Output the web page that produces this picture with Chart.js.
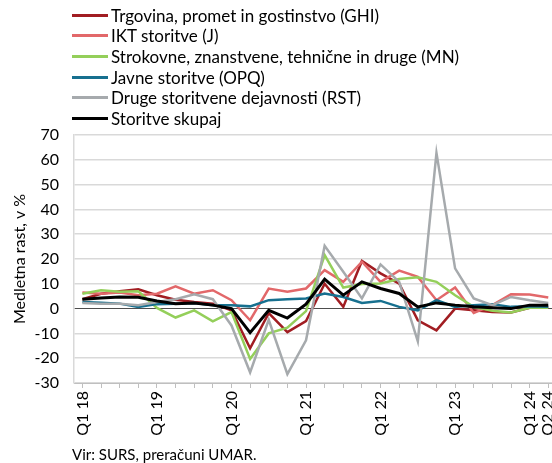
<!DOCTYPE html>
<html>
<head>
<meta charset="utf-8">
<script src="https://cdn.jsdelivr.net/npm/chart.js@4/dist/chart.umd.min.js"></script>
<style>
    html, body { margin: 0; padding: 0; background: #fff; }
    #wrap { position: relative; width: 552px; height: 463px; overflow: hidden; font-family: Lato, sans-serif; color: #000; }
    #chart { position: absolute; left: 0; top: 0; }
    #legend { position: absolute; left: 72px; top: 5px; }
    .item { height: 20.6px; display: flex; align-items: center; font-size: 17px; white-space: nowrap; }
    .swatch { width: 36px; height: 3px; margin-right: 3px; }
    #source { position: absolute; left: 72px; top: 445px; font-size: 15px; }
</style>
</head>
<body>
<div id="wrap">
    <canvas id="chart" width="552" height="463"></canvas>
    <div id="legend"></div>
    <div id="source">Vir: SURS, preračuni UMAR.</div>
</div>
<script>
// Quarters Q1 2018 - Q2 2024
const quarters = [
    'Q1 18', 'Q2 18', 'Q3 18', 'Q4 18',
    'Q1 19', 'Q2 19', 'Q3 19', 'Q4 19',
    'Q1 20', 'Q2 20', 'Q3 20', 'Q4 20',
    'Q1 21', 'Q2 21', 'Q3 21', 'Q4 21',
    'Q1 22', 'Q2 22', 'Q3 22', 'Q4 22',
    'Q1 23', 'Q2 23', 'Q3 23', 'Q4 23',
    'Q1 24', 'Q2 24'
];
const shownTicks = ['Q1 18', 'Q1 19', 'Q1 20', 'Q1 21', 'Q1 22', 'Q1 23', 'Q1 24', 'Q2 24'];

const seriesNames = [
    'Trgovina, promet in gostinstvo (GHI)',
    'IKT storitve (J)',
    'Strokovne, znanstvene, tehnične in druge (MN)',
    'Javne storitve (OPQ)',
    'Druge storitvene dejavnosti (RST)',
    'Storitve skupaj'
];

// Medletna rast, v %
const ghi = [3.8, 6, 7, 7.8, 5.4, 3.6, 2.7, 2, -0.7, -16, -1.8, -9.5, -5, 10, 0.7, 19.2, 14.2, 10.1, -4.7, -8.8, 0, -0.7, -1.4, -1.6, 0.3, 0.3];
const ikt = [6.5, 6, 6.5, 5.4, 6, 9, 6, 7.4, 3.4, -4.7, 8.1, 6.8, 8.1, 15.5, 10.8, 18.9, 10.8, 15.3, 12.8, 3.4, 8.5, -1.8, 1.4, 5.8, 5.7, 4.5];
const mn = [6, 7.4, 6.8, 7, 0.3, -3.6, -0.7, -5.1, -1.4, -20.3, -10, -7.7, -1, 21.6, 8.5, 9.9, 10.1, 11.9, 12.6, 10.8, 5.4, 0.7, -0.9, -1.6, 0.3, 0.3];
const opq = [2.7, 2.4, 2, 0.7, 1.8, 2, 2.3, 1.4, 1.4, 0.9, 3.4, 3.8, 4.1, 6.1, 4.7, 2.3, 3.1, 0.7, -0.7, 3.4, 0.7, 1.4, 1.8, 0.7, 0.9, 0.7];
const rst = [2.3, 2, 2, 1.4, 2.7, 3.8, 5.8, 3.8, -6.8, -25.7, -4.5, -26.4, -12.8, 25.3, 14.9, 4.1, 17.8, 10.8, -13.2, 62.8, 16.2, 4.1, 1.4, 4.7, 3.4, 2.3];
const skupaj = [3.8, 4.3, 4.7, 4.6, 3.1, 2, 2.3, 1.4, 0, -9.7, -0.7, -3.8, 1.8, 11.9, 5.4, 10.8, 8.1, 6.1, 0.7, 2.3, 1.4, 0.7, 0.3, 0, 1.4, 1.4];

const seriesData = [ghi, ikt, mn, opq, rst, skupaj];
const seriesColors = ['#a11d22', '#e2686a', '#94cf5a', '#17708f', '#a6aaad', '#000000'];

// Legend in one column (HTML)
const legendEl = document.getElementById('legend');
seriesNames.forEach((name, i) => {
    const row = document.createElement('div');
    row.className = 'item';
    const sw = document.createElement('span');
    sw.className = 'swatch';
    sw.style.background = seriesColors[i];
    row.appendChild(sw);
    row.appendChild(document.createTextNode(name));
    legendEl.appendChild(row);
});

const datasets = seriesData.map((vals, i) => ({
    label: seriesNames[i],
    data: vals.map((v, k) => ({ x: k, y: v })),
    borderColor: seriesColors[i],
    backgroundColor: seriesColors[i],
    borderWidth: i === 5 ? 3 : 2.5,
    pointRadius: 0,
    tension: 0,
    order: seriesData.length - i
}));

new Chart(document.getElementById('chart'), {
    type: 'line',
    data: { datasets: datasets },
    options: {
        responsive: false,
        maintainAspectRatio: false,
        animation: false,
        layout: {
            padding: { left: 10, top: 135, right: 0, bottom: 18 }
        },
        plugins: {
            legend: { display: false },
            tooltip: { enabled: false }
        },
        scales: {
            x: {
                type: 'linear',
                min: -0.45,
                max: 25.2,
                afterBuildTicks: (scale) => {
                    scale.ticks = quarters.map((q, k) => ({ value: k }));
                },
                afterFit: (scale) => {
                    scale.height = 62;
                    scale.paddingLeft = 0;
                    scale.paddingRight = 0;
                },
                ticks: {
                    autoSkip: false,
                    minRotation: 90,
                    maxRotation: 90,
                    padding: 3,
                    color: '#000',
                    font: { family: 'Lato', size: 16 },
                    callback: (value) => shownTicks.includes(quarters[value]) ? quarters[value] : ''
                },
                grid: {
                    drawOnChartArea: false,
                    drawTicks: true,
                    tickLength: 5,
                    color: '#bfbfbf'
                },
                border: { display: true, color: '#bfbfbf' }
            },
            y: {
                min: -30,
                max: 70,
                afterFit: (scale) => {
                    scale.width = 64;
                },
                ticks: {
                    stepSize: 10,
                    padding: 15,
                    color: '#000',
                    font: { family: 'Lato', size: 16 }
                },
                grid: {
                    drawTicks: false,
                    color: (ctx) => ctx.tick && ctx.tick.value === 0 ? '#4d4d4d' : '#d9d9d9',
                    lineWidth: (ctx) => ctx.tick && ctx.tick.value === 0 ? 1 : 1.5
                },
                border: { display: true, color: '#d9d9d9', width: 1.5 },
                title: {
                    display: true,
                    text: 'Medletna rast, v %',
                    color: '#000',
                    padding: 0,
                    font: { family: 'Lato', size: 16 }
                }
            }
        }
    }
});
</script>
</body>
</html>
